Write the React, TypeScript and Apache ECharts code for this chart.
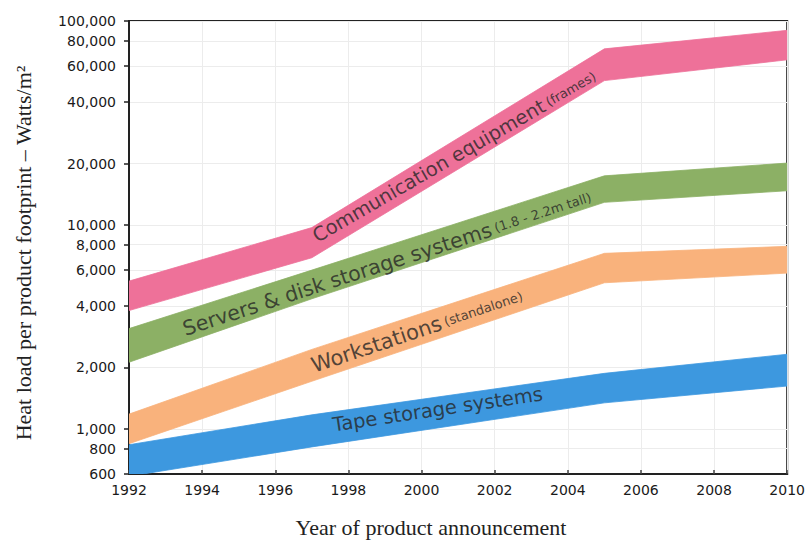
import { useEffect, useRef } from "react";
import * as echarts from "echarts";

// Years at which each band's outline is defined
const years = [1992, 1997, 2005, 2010];

// Heat load ranges (W/m² of product footprint), lower and upper edge of each band
const commLow = [3800, 6900, 51000, 64500];
const commHigh = [5300, 9700, 73000, 90000];
const serverLow = [2120, 4340, 12900, 14700];
const serverHigh = [3100, 6000, 17400, 20100];
const workLow = [845, 1710, 5200, 5800];
const workHigh = [1180, 2450, 7250, 7850];
const tapeLow = [585, 815, 1340, 1620];
const tapeHigh = [835, 1170, 1870, 2320];

// Axis ticks
const yTickValues = [600, 800, 1000, 2000, 4000, 6000, 8000, 10000, 20000, 40000, 60000, 80000, 100000];
const xMin = 1992;
const xMax = 2010;

// In-band captions: main text, parenthetical note, anchor year and value, slope angle
const captionMain = ["Communication equipment", "Servers & disk storage systems", "Workstations", "Tape storage systems"];
const captionNote = ["(frames)", "(1.8 - 2.2m tall)", "(standalone)", ""];
const captionYears = [2000.9, 1999.06, 1999.88, 2000.44];
const captionValues = [21700, 6500, 3016, 1244];
const captionAngles = [30, 18, 18.5, 8.5];

const SANS = '"DejaVu Sans", "Liberation Sans", Arial, sans-serif';
const SERIF = '"Liberation Serif", "Times New Roman", serif';

const bands = [
  { id: "comm", low: commLow, high: commHigh, color: "#ee7199", font: 19.5 },
  { id: "server", low: serverLow, high: serverHigh, color: "#8cb065", font: 20.5 },
  { id: "work", low: workLow, high: workHigh, color: "#f9b27c", font: 21 },
  { id: "tape", low: tapeLow, high: tapeHigh, color: "#3d98df", font: 19.5 },
];

export default function App() {
  const ref = useRef<HTMLDivElement>(null);

  useEffect(() => {
    if (!ref.current) return;
    const chart = echarts.init(ref.current, undefined, { renderer: "svg" });

    // Each band is a filled polygon: along the upper edge, then back along the lower edge
    const bandSeries = bands.map((b) => ({
      type: "custom",
      name: b.id,
      yAxisIndex: 0,
      silent: true,
      clip: true,
      data: years.map((y, i) => [y, b.low[i], b.high[i]]),
      encode: { x: 0, y: [1, 2] },
      renderItem: (params: any, api: any) => {
        if (params.dataIndex !== 0) return null;
        const upper = years.map((y, i) => api.coord([y, b.high[i]]));
        const lower = years.map((y, i) => api.coord([y, b.low[i]])).reverse();
        const cs = params.coordSys;
        return {
          type: "group",
          children: [
            {
              type: "polygon",
              shape: { points: [...upper, ...lower] },
              style: { fill: b.color, stroke: b.color, lineWidth: 0.8 },
            },
          ],
          clipPath: {
            type: "rect",
            shape: { x: cs.x, y: cs.y, width: cs.width, height: cs.height },
          },
        };
      },
    }));

    const captionSeries = {
      type: "scatter",
      yAxisIndex: 0,
      symbolSize: 1,
      silent: true,
      itemStyle: { color: "rgba(0,0,0,0)" },
      z: 5,
      data: captionMain.map((t, i) => ({
        value: [captionYears[i], captionValues[i]],
        label: {
          show: true,
          position: "inside",
          rotate: captionAngles[i],
          align: "center",
          verticalAlign: "middle",
          formatter: captionNote[i] ? `{m|${t}} {s|${captionNote[i]}}` : `{m|${t}}`,
          rich: {
            m: { fontFamily: SANS, fontSize: bands[i].font, color: "#262626" },
            s: { fontFamily: SANS, fontSize: 13, color: "#262626" },
          },
        },
      })),
    };

    const yLogTicks = yTickValues.map((v) => Math.log10(v));

    chart.setOption({
      animation: false,
      backgroundColor: "#ffffff",
      grid: {
        left: 129,
        right: 18,
        top: 21,
        bottom: 69,
        show: true,
        borderColor: "#222",
        borderWidth: 2,
        backgroundColor: "transparent",
      },
      xAxis: {
        type: "value",
        min: xMin,
        max: xMax,
        interval: 2,
        axisLine: { show: true, lineStyle: { color: "#222", width: 2 } },
        axisTick: { show: true, inside: true, length: 4, lineStyle: { color: "#444", width: 1.5 } },
        axisLabel: {
          formatter: (v: number) => String(v),
          fontFamily: SANS,
          fontSize: 14,
          color: "#1a1a1a",
          margin: 9,
        },
        splitLine: { show: true, lineStyle: { color: "#ececec", width: 1 } },
      },
      yAxis: [
        {
          // data axis (logarithmic)
          type: "log",
          logBase: 10,
          min: yTickValues[0],
          max: yTickValues[yTickValues.length - 1],
          position: "left",
          axisLine: { show: false },
          axisTick: { show: false },
          axisLabel: { show: false },
          splitLine: { show: false },
        },
        {
          // tick and label axis on the same log10 scale
          type: "value",
          min: yLogTicks[0],
          max: yLogTicks[yLogTicks.length - 1],
          position: "left",
          axisLine: { show: true, lineStyle: { color: "#222", width: 2 } },
          axisTick: {
            show: true,
            length: 5,
            customValues: yLogTicks,
            lineStyle: { color: "#222", width: 1.5 },
          },
          axisLabel: {
            customValues: yLogTicks,
            formatter: (v: number) => Math.round(Math.pow(10, v)).toLocaleString("en-US"),
            fontFamily: SANS,
            fontSize: 14,
            color: "#1a1a1a",
            margin: 13,
          },
          splitLine: { show: true, lineStyle: { color: "#ececec", width: 1 } },
        },
      ],
      series: [...bandSeries, captionSeries],
      graphic: [
        {
          type: "text",
          x: 23,
          y: 253,
          rotation: Math.PI / 2,
          style: {
            text: "Heat load per product footprint – Watts/m²",
            font: `22px ${SERIF}`,
            fill: "#222",
            align: "center",
            verticalAlign: "middle",
          },
        },
        {
          type: "text",
          x: 431,
          y: 527,
          style: {
            text: "Year of product announcement",
            font: `22px ${SERIF}`,
            fill: "#222",
            align: "center",
            verticalAlign: "middle",
          },
        },
      ],
    });

    return () => chart.dispose();
  }, []);

  return (
    <div
      ref={ref}
      style={{ position: "fixed", left: 0, top: 0, width: 808, height: 543, background: "#fff" }}
    />
  );
}
